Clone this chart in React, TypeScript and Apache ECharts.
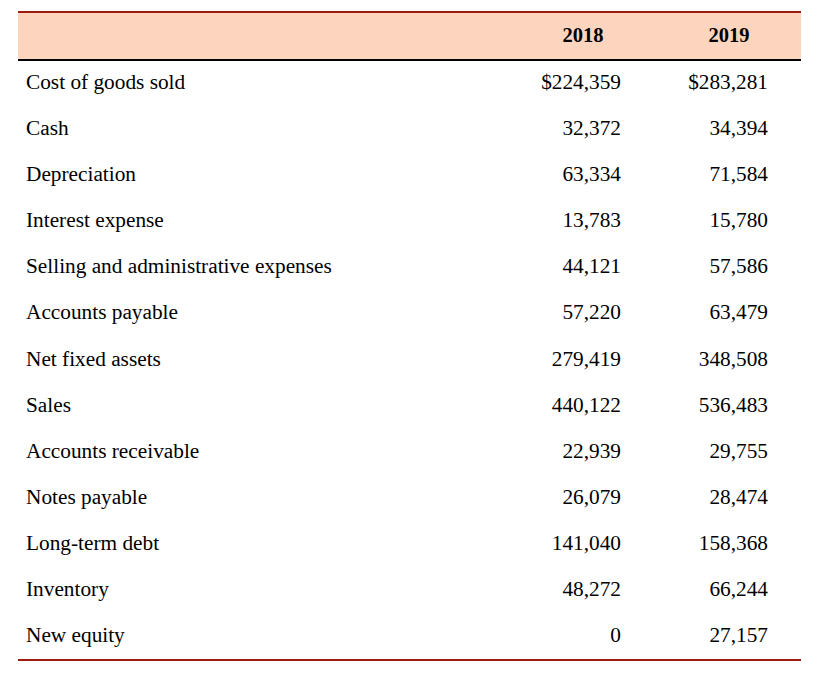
import React, { useEffect, useRef } from "react";
import * as echarts from "echarts";

const columnHeaders: string[] = ["2018", "2019"];
const rowLabels: string[] = [
  "Cost of goods sold",
  "Cash",
  "Depreciation",
  "Interest expense",
  "Selling and administrative expenses",
  "Accounts payable",
  "Net fixed assets",
  "Sales",
  "Accounts receivable",
  "Notes payable",
  "Long-term debt",
  "Inventory",
  "New equity",
];
const values2018: number[] = [224359, 32372, 63334, 13783, 44121, 57220, 279419, 440122, 22939, 26079, 141040, 48272, 0];
const values2019: number[] = [283281, 34394, 71584, 15780, 57586, 63479, 348508, 536483, 29755, 28474, 158368, 66244, 27157];

const FONT = '"Liberation Serif", "Times New Roman", serif';

function fmt(v: number, row: number): string {
  const s = v.toLocaleString("en-US");
  return row === 0 ? "$" + s : s;
}

export default function App() {
  const ref = useRef<HTMLDivElement>(null);
  useEffect(() => {
    if (!ref.current) return;
    const chart = echarts.init(ref.current, null, { renderer: "svg" });
    const cells: number[][] = [];
    rowLabels.forEach((_, r) => {
      cells.push([0, r]);
      cells.push([1, r]);
      cells.push([2, r]);
    });
    const colRight = [26, 621, 768];
    const headerCenter = [583, 729];
    chart.setOption({
      animation: false,
      backgroundColor: "#ffffff",
      grid: { left: 18, right: 20, top: 59, height: 599, containLabel: false },
      xAxis: { type: "category", data: ["label", ...columnHeaders], show: false },
      yAxis: { type: "category", data: rowLabels, inverse: true, show: false },
      graphic: [
        { type: "rect", shape: { x: 18, y: 12, width: 783, height: 47 }, style: { fill: "#FDD5BE" }, z: 1 },
        { type: "rect", shape: { x: 18, y: 11, width: 783, height: 2 }, style: { fill: "#9E1B0F" }, z: 2 },
        { type: "rect", shape: { x: 18, y: 59, width: 783, height: 2 }, style: { fill: "#000000" }, z: 2 },
        { type: "rect", shape: { x: 18, y: 659, width: 783, height: 2 }, style: { fill: "#9E1B0F" }, z: 2 },
        ...columnHeaders.map((h, i) => ({
          type: "text",
          x: headerCenter[i],
          y: 35,
          z: 3,
          style: {
            text: h,
            font: `bold 20.5px ${FONT}`,
            fill: "#000",
            textAlign: "center",
            textVerticalAlign: "middle",
          },
        })),
      ],
      series: [
        {
          type: "custom",
          data: cells,
          renderItem: (params: any, api: any) => {
            const col = api.value(0);
            const row = api.value(1);
            const pt = api.coord([col, row]);
            let text = "";
            if (col === 0) text = rowLabels[row];
            else if (col === 1) text = fmt(values2018[row], row);
            else text = fmt(values2019[row], row);
            return {
              type: "text",
              x: colRight[col],
              y: pt[1],
              style: {
                text,
                font: `21.3px ${FONT}`,
                fill: "#000",
                textAlign: col === 0 ? "left" : "right",
                textVerticalAlign: "middle",
              },
            };
          },
        },
      ],
    });
    return () => chart.dispose();
  }, []);
  return (
    <div
      ref={ref}
      style={{ position: "fixed", left: 0, top: 0, width: 821, height: 679 }}
    />
  );
}
